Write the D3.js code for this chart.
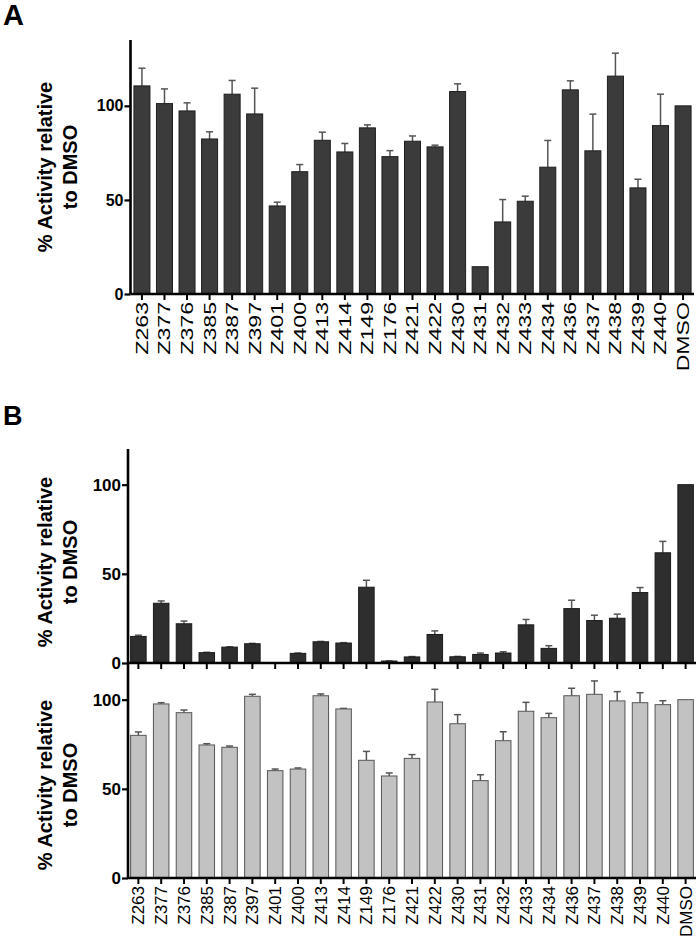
<!DOCTYPE html>
<html><head><meta charset="utf-8">
<script src="https://cdn.jsdelivr.net/npm/d3@7"></script>
<style>body{margin:0;background:#fff}svg{display:block}text{font-family:"Liberation Sans",Arial,sans-serif}</style>
</head><body><svg id="c" width="700" height="943"></svg>
<script>
const categories = ["Z263","Z377","Z376","Z385","Z387","Z397","Z401","Z400","Z413","Z414","Z149","Z176","Z421","Z422","Z430","Z431","Z432","Z433","Z434","Z436","Z437","Z438","Z439","Z440","DMSO"];
const valuesA = [110.6,101.2,97.3,82.4,106.2,95.7,46.8,65,81.7,75.5,88.3,73,81.2,78.2,107.6,14.5,38.3,49.3,67.4,108.5,76.1,115.8,56.4,89.5,100];
const errorsA = [9.4,7.8,4.3,3.8,7.3,13.7,2,3.8,4.3,4.5,1.6,3.2,2.8,0.9,4.1,0,11.9,2.7,14.2,4.8,19.5,12.2,4.6,16.7,0];
const valuesB1 = [14.9,33.5,22,5.8,8.9,10.8,0.2,5.4,11.9,11.2,42.5,1.1,3.4,16,3.5,4.8,5.6,21.4,8.2,30.5,23.8,25.1,39.5,61.8,100];
const errorsB1 = [0.7,1.3,1.5,0.2,0.2,0.2,0,0.2,0.2,0.2,3.9,0.1,0.2,2,0.2,0.8,0.7,3,1.5,4.7,3,2.3,2.8,6.4,0];
const valuesB2 = [80,97.6,92.7,74.6,73.3,101.9,60.2,61.1,102.2,94.8,66,57.2,67.1,98.7,86.5,54.6,77,93.5,89.9,102.2,103,99.3,98.3,97.2,100];
const errorsB2 = [1.9,0.7,1.5,0.7,0.7,1.1,0.9,0.6,1,0.3,5,1.7,2.1,7.1,5.1,3.3,5,5,2.4,4.2,7.5,5.2,5.6,2.2,0];
const yTicks = [0,50,100];
const yTitle = ["% Activity relative","to DMSO"];

const svg = d3.select("#c");

function panel(o){
  const x = d3.scaleBand().domain(categories).range([o.x0,o.x1]).paddingInner(o.pi).paddingOuter(o.po);
  const y = d3.scaleLinear().domain([0,o.max]).range([o.y0,o.y1]);
  const g = svg.append("g");
  const data = categories.map((c,i)=>({c,v:o.values[i],e:o.errors[i]}));
  const cap = 3.5;
  data.filter(d=>d.e>0).forEach(d=>{
    const cx = x(d.c)+x.bandwidth()/2;
    g.append("line").attr("x1",cx).attr("x2",cx).attr("y1",y(d.v)).attr("y2",y(d.v+d.e)).attr("stroke",o.errColor).attr("stroke-width",1.5);
    g.append("line").attr("x1",cx-cap).attr("x2",cx+cap).attr("y1",y(d.v+d.e)).attr("y2",y(d.v+d.e)).attr("stroke",o.errColor).attr("stroke-width",1.5);
  });
  g.selectAll("rect.bar").data(data).join("rect").attr("class","bar")
    .attr("x",d=>x(d.c)).attr("width",x.bandwidth())
    .attr("y",d=>y(d.v)).attr("height",d=>o.y0-y(d.v))
    .attr("fill",o.fill).attr("stroke",o.stroke).attr("stroke-width",1);
  const ya = g.append("g").attr("transform",`translate(${o.ax},0)`)
    .call(d3.axisLeft(y).tickValues(yTicks).tickSize(6).tickPadding(1).tickSizeOuter(0));
  ya.select(".domain").attr("stroke","#000").attr("stroke-width",2.6).attr("d",`M0,${o.y0}V${o.y1}`);
  ya.selectAll(".tick line").attr("stroke","#000").attr("stroke-width",2.2);
  ya.selectAll(".tick text").attr("font-size",o.tfs).attr("font-weight","bold").attr("fill","#000");
  const xa = g.append("g").attr("transform",`translate(0,${o.y0})`)
    .call(d3.axisBottom(x).tickSize(6).tickSizeOuter(0).tickPadding(3));
  xa.select(".domain").attr("stroke","#000").attr("stroke-width",2.6).attr("d",`M${o.ax},0H${o.axEnd}`);
  xa.selectAll(".tick line").attr("stroke","#000").attr("stroke-width",2);
  if(o.labels){
    xa.selectAll(".tick text").attr("font-size",o.lfs).attr("fill","#000")
      .attr("text-anchor","end").attr("dy","0.35em").attr("y",0)
      .attr("transform",`translate(0,${o.lpad}) rotate(-90) scale(${o.lscale},1)`);
  } else {
    xa.selectAll(".tick text").remove();
  }
  const t = g.append("text").attr("transform",`translate(0,${o.tcy}) rotate(-90)`)
    .attr("text-anchor","middle").attr("font-size",20).attr("font-weight","bold").attr("fill","#000");
  t.append("tspan").attr("x",0).attr("y",52).text(yTitle[0]);
  t.append("tspan").attr("x",0).attr("y",77).text(yTitle[1]);
}

panel({x0:131,x1:694,pi:0.29,po:0.13,ax:130.5,axEnd:694,y0:294,y1:40,max:135,values:valuesA,errors:errorsA,
  fill:"#3b3b3b",stroke:"#1e1e1e",errColor:"#555",tfs:16,labels:true,lfs:17,lscale:1.36,lpad:8,tcy:167});
panel({x0:128,x1:696,pi:0.32,po:0.115,ax:128,axEnd:696,y0:663,y1:449,max:120,values:valuesB1,errors:errorsB1,
  fill:"#2e2e2e",stroke:"#1a1a1a",errColor:"#555",tfs:17,labels:false,tcy:562});
panel({x0:128,x1:696,pi:0.32,po:0.115,ax:128,axEnd:696,y0:878,y1:664,max:120,values:valuesB2,errors:errorsB2,
  fill:"#c2c2c2",stroke:"#555",errColor:"#555",tfs:17,labels:true,lfs:17,lscale:1,lpad:8,tcy:785});

svg.append("text").attr("x",3).attr("y",25).attr("font-size",29).attr("font-weight","bold").text("A");
svg.append("text").attr("x",3).attr("y",425).attr("font-size",27).attr("font-weight","bold").text("B");
</script></body></html>
